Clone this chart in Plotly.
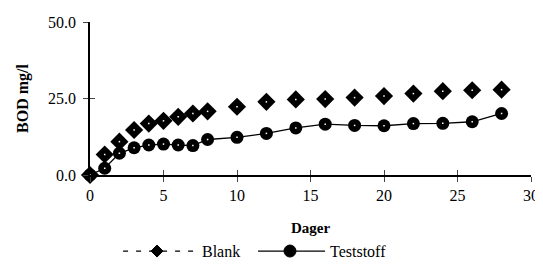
import plotly.graph_objects as go

days = [0, 1, 2, 3, 4, 5, 6, 7, 8, 10, 12, 14, 16, 18, 20, 22, 24, 26, 28]
blank = [0.0, 6.7, 10.9, 14.7, 16.8, 17.7, 19.0, 20.1, 20.8, 22.3, 23.9, 24.7, 24.8, 25.3, 25.8, 26.6, 27.4, 27.7, 27.9]
teststoff = [0.0, 2.2, 7.1, 8.9, 9.8, 10.1, 9.8, 9.6, 11.6, 12.3, 13.6, 15.4, 16.6, 16.2, 16.1, 16.8, 16.9, 17.4, 20.1]
x_ticks = [0, 5, 10, 15, 20, 25, 30]
y_ticks = [0, 25, 50]
y_labels = ["0.0", "25.0", "50.0"]
series_names = ["Blank", "Teststoff"]

FONT = "Liberation Serif, Times New Roman, serif"
fig = go.Figure()

fig.add_trace(go.Scatter(x=days, y=blank, mode="markers", name=series_names[0], showlegend=False,
                         marker=dict(symbol="diamond", size=14, color="black", opacity=1,
                                     line=dict(width=0))))
fig.add_trace(go.Scatter(x=days, y=blank, mode="markers", showlegend=False, hoverinfo="skip",
                         marker=dict(symbol="square", size=1.5, color="white", line=dict(width=0))))
fig.add_trace(go.Scatter(x=days, y=teststoff, mode="lines+markers", name=series_names[1], showlegend=False,
                         line=dict(color="black", width=1.3),
                         marker=dict(symbol="circle", size=13, color="black", opacity=1,
                                     line=dict(width=0))))
fig.add_trace(go.Scatter(x=days, y=teststoff, mode="markers", showlegend=False, hoverinfo="skip",
                         marker=dict(symbol="square", size=1.5, color="white", line=dict(width=0))))
fig.add_trace(go.Scatter(x=[None], y=[None], xaxis="x2", yaxis="y2", showlegend=False))

# custom legend (long sample lines like the original)
LY = -0.497
shapes = []
shapes.append(dict(type="line", xref="paper", yref="paper", x0=0.075, x1=0.243, y0=LY, y1=LY,
                   line=dict(color="black", width=1.3, dash="5px,8px")))
shapes.append(dict(type="path", xref="paper", yref="paper", xsizemode="pixel", ysizemode="pixel",
                   xanchor=0.152, yanchor=LY, path="M -6 0 L 0 6 L 6 0 L 0 -6 Z",
                   fillcolor="black", line=dict(color="black", width=1)))
shapes.append(dict(type="line", xref="paper", yref="paper", x0=0.381, x1=0.533, y0=LY, y1=LY,
                   line=dict(color="black", width=1.3)))
shapes.append(dict(type="circle", xref="paper", yref="paper", xsizemode="pixel", ysizemode="pixel",
                   xanchor=0.4535, yanchor=LY, x0=-6, x1=6, y0=-6, y1=6,
                   fillcolor="black", line=dict(color="black", width=1)))
annotations = [
    dict(text=series_names[0], xref="paper", yref="paper", x=0.249, y=LY, xanchor="left",
         yanchor="middle", showarrow=False, font=dict(family=FONT, size=16, color="black")),
    dict(text=series_names[1], xref="paper", yref="paper", x=0.540, y=LY, xanchor="left",
         yanchor="middle", showarrow=False, font=dict(family=FONT, size=16, color="black")),
]

# page body has an 8px margin: figure is offset by 8px right/down
fig.update_layout(
    width=535, height=260,
    margin=dict(l=82, r=12, t=14, b=93, autoexpand=False),
    paper_bgcolor="white", plot_bgcolor="white",
    font=dict(family=FONT, size=16, color="black"),
    showlegend=False,
    shapes=shapes, annotations=annotations,
    xaxis=dict(range=[0, 30], tickvals=x_ticks, ticks="outside", ticklen=5, tickwidth=1,
               tickfont=dict(family=FONT, size=16),
               showline=True, linecolor="black", linewidth=1.5, showgrid=False, zeroline=False,
               automargin=False,
               title=dict(text="<b>Dager</b>", standoff=20, font=dict(family=FONT, size=15))),
    yaxis=dict(range=[0, 50], tickvals=y_ticks, ticktext=y_labels, ticks="outside", ticklen=5,
               tickfont=dict(family=FONT, size=16), ticklabelstandoff=4,
               showline=True, linecolor="black", linewidth=1.5, showgrid=False, zeroline=False,
               automargin=False,
               title=dict(text="<b>BOD mg/l</b>", standoff=15, font=dict(family=FONT, size=16))),
    xaxis2=dict(range=[0, 30], tickvals=x_ticks, ticks="inside", ticklen=5, showticklabels=False,
                overlaying="x", showgrid=False, zeroline=False, side="bottom", anchor="y2"),
    yaxis2=dict(range=[0, 50], tickvals=y_ticks, ticks="inside", ticklen=5, showticklabels=False,
                overlaying="y", showgrid=False, zeroline=False, side="left", anchor="x2"),
)
fig.update_traces(cliponaxis=False, selector=dict(type="scatter"))

fig.write_html("out.html")
